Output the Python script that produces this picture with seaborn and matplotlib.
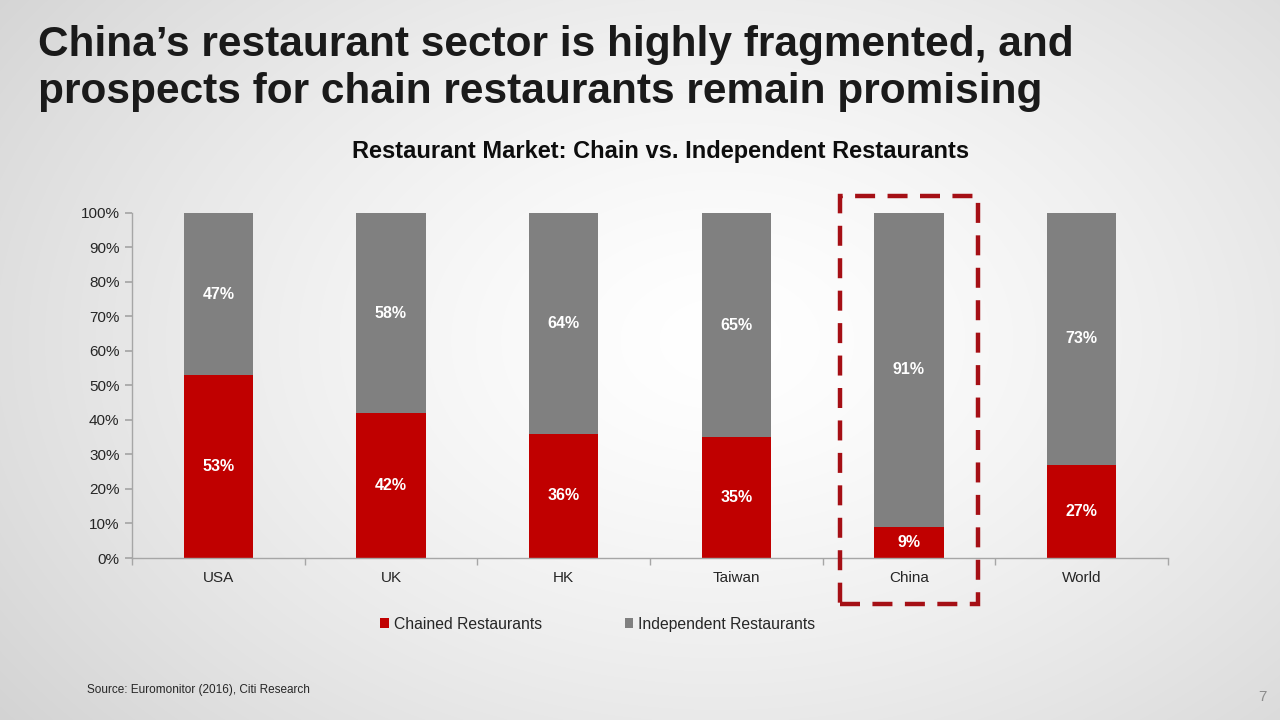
import numpy as np
import pandas as pd
import matplotlib
matplotlib.use("Agg")
import matplotlib.pyplot as plt
import seaborn as sns
from matplotlib.patches import Rectangle, Patch
from matplotlib.ticker import FixedLocator, PercentFormatter

# ---- data ----
categories = ["USA", "UK", "HK", "Taiwan", "China", "World"]
chained = [53, 42, 36, 35, 9, 27]
independent = [47, 58, 64, 65, 91, 73]
series_names = ["Chained Restaurants", "Independent Restaurants"]
y_ticks = [0, 10, 20, 30, 40, 50, 60, 70, 80, 90, 100]
highlight = "China"

RED = "#C00000"
GRAY = "#808080"
BOX = "#A50F15"

sns.set_theme(style="white")
plt.rcParams["font.family"] = ["Liberation Sans", "DejaVu Sans"]

fig = plt.figure(figsize=(12.8, 7.2), dpi=100)

# background radial gradient
bg = fig.add_axes([0, 0, 1, 1], zorder=-10)
yy, xx = np.mgrid[0:720, 0:1280]
r = np.sqrt(((xx - 720) / 900.0) ** 2 + ((yy - 340) / 620.0) ** 2)
shade = np.clip(1.0 - 0.17 * r ** 1.4, 0.80, 1.0)
bg.imshow(np.dstack([shade, shade, shade]), aspect="auto", extent=[0, 1, 0, 1])
bg.axis("off")

df = pd.DataFrame({"cat": categories, "chained": chained, "independent": independent})
df["total"] = df["chained"] + df["independent"]

ax = fig.add_axes([0.1031, 0.225, 0.8094, 0.4792])
ax.patch.set_alpha(0)
sns.barplot(data=df, x="cat", y="total", color=GRAY, width=0.4, saturation=1, linewidth=0, ax=ax)
sns.barplot(data=df, x="cat", y="chained", color=RED, width=0.4, saturation=1, linewidth=0, ax=ax)

ax.set_xlim(-0.5, len(categories) - 0.5)
ax.set_ylim(0, 100)
ax.set_xlabel("")
ax.set_ylabel("")
ax.yaxis.set_major_locator(FixedLocator(y_ticks))
ax.yaxis.set_major_formatter(PercentFormatter(decimals=0))
for s in ["top", "right"]:
    ax.spines[s].set_visible(False)
for s in ["left", "bottom"]:
    ax.spines[s].set_color("#A6A6A6")
    ax.spines[s].set_linewidth(1.0)
ax.tick_params(axis="y", left=True, length=5, color="#A6A6A6", labelsize=11, labelcolor="#262626", pad=4)
ax.tick_params(axis="x", which="major", bottom=False, labelsize=11, labelcolor="#262626", pad=3)
ax.xaxis.set_minor_locator(FixedLocator(np.arange(-0.5, len(categories), 1.0)))
ax.tick_params(axis="x", which="minor", bottom=True, length=5, color="#A6A6A6")
ax.grid(False)

# data labels
for i, (c, ind) in enumerate(zip(chained, independent)):
    ax.text(i, c / 2, f"{c}%", ha="center", va="center", color="white", fontsize=11.5, fontweight="bold")
    ax.text(i, c + ind / 2, f"{ind}%", ha="center", va="center", color="white", fontsize=11.5, fontweight="bold")

# highlight box (data-x based, axes-fraction y)
hi = categories.index(highlight)
trans = ax.get_xaxis_transform()
rect = Rectangle((hi - 0.4, -0.132), 0.8, 1.182, transform=trans, fill=False,
                 edgecolor=BOX, linewidth=3.2, linestyle=(0, (4.5, 2.8)), clip_on=False, zorder=5)
ax.add_patch(rect)

# legend
handles = [Patch(facecolor=RED, edgecolor="none"), Patch(facecolor=GRAY, edgecolor="none")]
fig.legend(handles, series_names, loc="center", bbox_to_anchor=(0.467, 0.133), ncol=2, frameon=False,
           fontsize=11.3, handlelength=0.55, handleheight=0.55, handletextpad=0.3, columnspacing=5.3,
           labelcolor="#262626")

# titles and texts
fig.text(0.030, 0.905, "China’s restaurant sector is highly fragmented, and\nprospects for chain restaurants remain promising",
         ha="left", va="center", fontsize=30.5, fontweight="bold", color="#1A1A1A", linespacing=1.2)
fig.text(0.516, 0.789, "Restaurant Market: Chain vs. Independent Restaurants", ha="center", va="center",
         fontsize=17, fontweight="bold", color="#0D0D0D")
fig.text(0.068, 0.042, "Source: Euromonitor (2016), Citi Research", ha="left", va="center",
         fontsize=8.5, color="#262626")
fig.text(0.986, 0.032, "7", ha="center", va="center", fontsize=11, color="#8C8C8C")

fig.savefig("out.png", dpi=100)
